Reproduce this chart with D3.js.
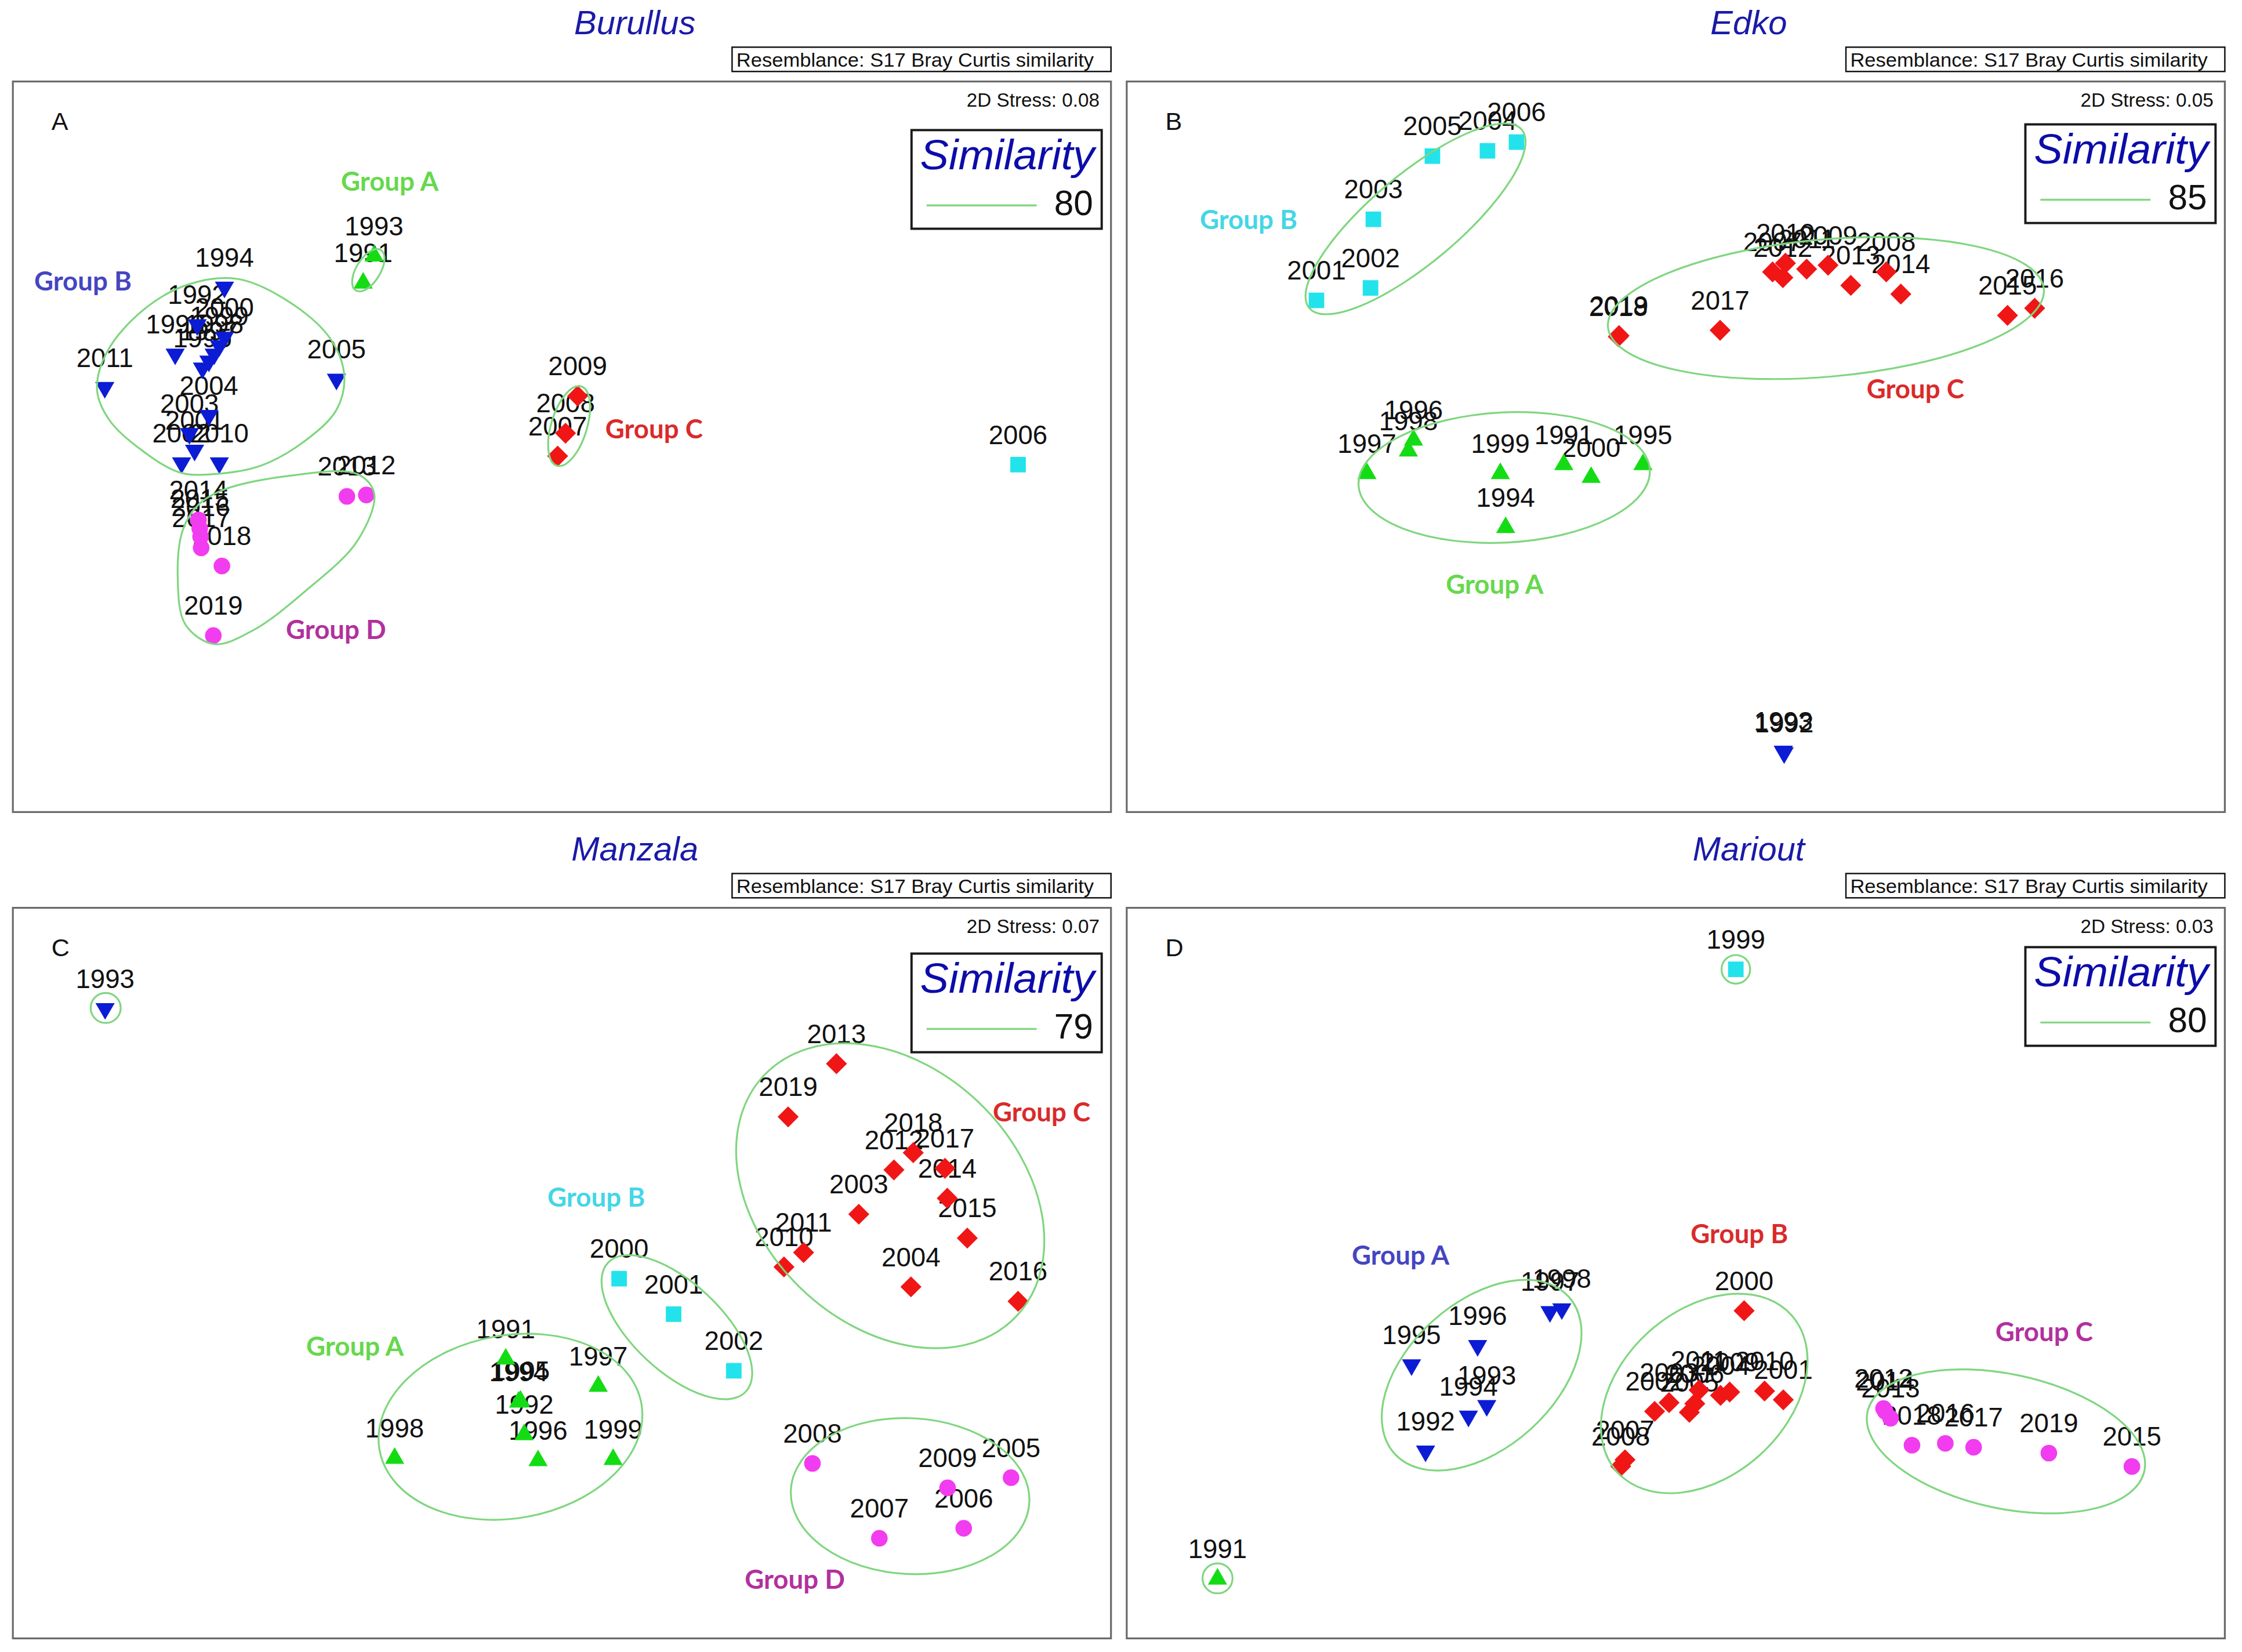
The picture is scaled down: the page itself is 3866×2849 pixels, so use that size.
<!DOCTYPE html>
<html>
<head>
<meta charset="utf-8">
<script src="https://cdn.jsdelivr.net/npm/d3@7"></script>
<style>
html, body { margin: 0; padding: 0; background: #fff; }
svg { display: block; }
</style>
</head>
<body>
<script>
// nMDS ordinations of four lagoons
// point = [year, dim1, dim2, level]; dims are in plot units (0..768 x 0..511)

const lagoonNames = ['Burullus', 'Edko', 'Manzala', 'Mariout'];
const panelLetters = ['A', 'B', 'C', 'D'];
const stressValues = ['0.08', '0.05', '0.07', '0.03'];
const similarityLevels = [80, 85, 79, 80];
const resemblanceText = 'Resemblance: S17 Bray Curtis similarity';

const burullusPoints = [
    ['1991', 245, 370, 'a'], ['1993', 252.6, 389, 'a'],
    ['1992', 128.9, 340.8, 'b'], ['1994', 148, 367.1, 'b'], ['1995', 132.6, 310.5, 'b'],
    ['1996', 113.5, 320.3, 'b'], ['1997', 137.1, 315.4, 'b'], ['1998', 140.8, 320.3, 'b'],
    ['1999', 144.4, 326.1, 'b'], ['2000', 148, 332, 'b'], ['2001', 127.1, 253, 'b'],
    ['2002', 118, 244.2, 'b'], ['2003', 123.5, 264.7, 'b'], ['2004', 137.1, 277.4, 'b'],
    ['2005', 226.3, 302.7, 'b'], ['2010', 144.4, 244.2, 'b'], ['2011', 64.3, 296.9, 'b'],
    ['2006', 703, 243, 'c'],
    ['2007', 381, 249, 'd'], ['2008', 386.5, 265, 'd'], ['2009', 395, 291, 'd'],
    ['2012', 247.2, 221.8, 'e'], ['2013', 233.6, 220.8, 'e'], ['2014', 129.8, 204.3, 'e'],
    ['2015', 130.7, 198.4, 'e'], ['2016', 131.3, 192.6, 'e'], ['2017', 131.7, 184.8, 'e'],
    ['2018', 146.2, 172.1, 'e'], ['2019', 140.2, 123.4, 'e']
];

const edkoPoints = [
    ['1991', 305.7, 243, 'a'], ['1994', 265, 199, 'a'], ['1995', 361, 243, 'a'],
    ['1996', 200.6, 260.2, 'a'], ['1997', 168, 236.8, 'a'], ['1998', 197, 252.6, 'a'],
    ['1999', 261.3, 236.8, 'a'], ['2000', 324.8, 234.1, 'a'],
    ['1992', 459.8, 41.4, 'b'], ['1993', 459.2, 42.5, 'b'],
    ['2001', 132.7, 357.9, 'c'], ['2002', 170.5, 366.6, 'c'], ['2003', 172.5, 414.6, 'c'],
    ['2004', 252.3, 462.5, 'c'], ['2005', 213.8, 458.8, 'c'], ['2006', 272.6, 468.6, 'c'],
    ['2007', 451.7, 377.8, 'd'], ['2008', 531.2, 377.8, 'd'], ['2009', 490.5, 382.5, 'd'],
    ['2010', 460.7, 383.9, 'd'], ['2011', 475.5, 379.8, 'd'], ['2012', 458.9, 373.8, 'd'],
    ['2013', 506.4, 368.4, 'd'], ['2014', 541.4, 362.3, 'd'], ['2015', 616, 347.4, 'd'],
    ['2016', 635, 352.4, 'd'], ['2017', 415, 337, 'd'], ['2018', 343.8, 332.5, 'd'],
    ['2019', 344.3, 333.3, 'd']
];

const manzalaPoints = [
    ['1991', 344.7, 195.4, 'a'], ['1992', 357.6, 142.5, 'a'], ['1994', 353.7, 165.3, 'a'],
    ['1995', 355, 166, 'a'], ['1996', 367.3, 124.3, 'a'], ['1997', 409.4, 176.4, 'a'],
    ['1998', 267, 126, 'a'], ['1999', 419.8, 125.2, 'a'],
    ['1993', 64.5, 440.5, 'b'],
    ['2000', 424, 251.6, 'c'], ['2001', 462.1, 226.8, 'c'], ['2002', 504.2, 187.2, 'c'],
    ['2003', 591.6, 296.7, 'd'], ['2004', 628.1, 245.9, 'd'], ['2010', 539.3, 259.8, 'd'],
    ['2011', 553, 269.9, 'd'], ['2012', 616.2, 327.7, 'd'], ['2013', 576, 402, 'd'],
    ['2014', 653.5, 307.9, 'd'], ['2015', 667.5, 280, 'd'], ['2016', 703, 235.8, 'd'],
    ['2017', 651.9, 328.8, 'd'], ['2018', 629.7, 339.7, 'd'], ['2019', 542.2, 364.8, 'd'],
    ['2005', 698.1, 112.4, 'e'], ['2006', 665, 77, 'e'], ['2007', 606, 70, 'e'],
    ['2008', 559.2, 122.4, 'e'], ['2009', 653.7, 105.3, 'e']
];

const mariutPoints = [
    ['1991', 63.5, 41.5, 'a'],
    ['1992', 209, 131, 'b'], ['1993', 251.8, 162.8, 'b'], ['1994', 239, 155.4, 'b'],
    ['1995', 199.2, 191.3, 'b'], ['1996', 245.4, 204.8, 'b'], ['1997', 296, 228.5, 'b'],
    ['1998', 304.3, 230.5, 'b'],
    ['1999', 426, 468, 'c'],
    ['2000', 431.8, 229.2, 'd'], ['2001', 459.2, 166.9, 'd'], ['2002', 369.2, 158.8, 'd'],
    ['2003', 379.3, 164.9, 'd'], ['2004', 415.3, 170, 'd'], ['2005', 393.5, 158.1, 'd'],
    ['2006', 397.3, 164.2, 'd'], ['2007', 348.5, 124.9, 'd'], ['2008', 345.5, 120.4, 'd'],
    ['2009', 421.7, 172.3, 'd'], ['2010', 446.1, 173, 'd'], ['2011', 400.3, 173.7, 'd'],
    ['2012', 529.3, 160.8, 'e'], ['2013', 534.2, 154, 'e'], ['2014', 530.5, 158.8, 'e'],
    ['2015', 703, 120.2, 'e'], ['2016', 572.5, 136.4, 'e'], ['2017', 592.3, 133.7, 'e'],
    ['2018', 549.2, 135.1, 'e'], ['2019', 644.9, 129.6, 'e']
];

// similarity contours: [cx, cy, rx, ry, tilt in degrees]
const burullusEllipses = [[248.6, 379, 16.6, 8.4, -58], [389, 270, 29, 12.5, -73]];
const edkoEllipses = [[202, 414.9, 97, 31, -40], [489, 352.5, 153, 48, -5], [264, 234, 102, 45.5, -3]];
const manzalaEllipses = [[64.9, 441, 10.5, 10.5, 0], [348, 148, 93, 64, -10], [464.4, 217.7, 66, 31, 43],
    [613.6, 309.6, 122, 90, 44], [627.5, 99.5, 83.5, 54.5, 3]];
const mariutEllipses = [[426, 468, 10, 10, 0], [63.5, 42, 10.5, 10.5, 0], [248.2, 184.1, 82, 51, -42],
    [403.9, 171.3, 82, 58, -42], [614.9, 137.8, 99, 47, 12]];

// free-form contours (Burullus groups B and D)
const burullusOutlines = [
    [[157.1, 372.9], [195.4, 355.4], [222.7, 330.1], [231.8, 304.7], [226.3, 281.3], [204.5, 259.8],
     [173.5, 242.3], [140.8, 236.4], [117.1, 237.4], [91.6, 252], [68, 273.5], [58.9, 295],
     [66.1, 322.3], [91.6, 351.5], [122.6, 369]],
    [[148, 225.7], [195.4, 235.5], [240.9, 236.4], [252.7, 222.8], [240.9, 189.6], [204.5, 154.5],
     [168.1, 127.2], [140.8, 117.5], [120.7, 131.1], [115.3, 164.3], [118.9, 197.4], [129.8, 215]]
];

const burullusGroupLabels = [['Group A', 263.6, 434.5, 'a'], ['Group B', 49, 365, 'b'],
    ['Group C', 448.4, 261.3, 'd'], ['Group D', 226, 121, 'e']];
const edkoGroupLabels = [['Group B', 85.2, 407.8, 'c'], ['Group C', 551.6, 289.2, 'd'],
    ['Group A', 257.3, 152.7, 'a']];
const manzalaGroupLabels = [['Group A', 239.3, 197.7, 'a'], ['Group B', 408, 302.1, 'c'],
    ['Group C', 719.5, 361.7, 'd'], ['Group D', 546.9, 34.7, 'e']];
const mariutGroupLabels = [['Group A', 191.5, 261.4, 'b'], ['Group B', 428.5, 276.5, 'd'],
    ['Group C', 641.6, 208, 'e']];

const pointSets = [burullusPoints, edkoPoints, manzalaPoints, mariutPoints];
const ellipseSets = [burullusEllipses, edkoEllipses, manzalaEllipses, mariutEllipses];
const outlineSets = [burullusOutlines, [], [], []];
const groupLabelSets = [burullusGroupLabels, edkoGroupLabels, manzalaGroupLabels, mariutGroupLabels];

// ---- styling ----
const markerStyle = {
    a: { type: d3.symbolTriangle, size: 78, rotate: 0, fill: '#14dc14' },
    b: { type: d3.symbolTriangle, size: 78, rotate: 180, fill: '#0c1cd4' },
    c: { type: d3.symbolSquare, size: 118, rotate: 0, fill: '#22e3ec' },
    d: { type: d3.symbolSquare, size: 108, rotate: 45, fill: '#f01616' },
    e: { type: d3.symbolCircle, size: 106, rotate: 0, fill: '#f23cf0' }
};
const groupLabelColor = { a: '#66d84c', b: '#4545c2', c: '#44d6e6', d: '#da2a2a', e: '#b2309e' };
const contourColor = '#7fd67f';
const sansFont = "'Liberation Sans', Arial, sans-serif";

// layout in a 1568-wide frame, scaled up to the 3866 x 2849 page
const frameW = 1568, frameH = 1568 * 2849 / 3866;
const plotW = 768, plotH = 511;
const layout = [{ L: 9, T: 57, legendTop: 34 }, { L: 788, T: 57, legendTop: 30 },
                { L: 9, T: 635, legendTop: 32 }, { L: 788, T: 635, legendTop: 27.5 }];

const svg = d3.select('body').append('svg')
    .attr('width', 3866)
    .attr('height', 2849)
    .attr('viewBox', `0 0 ${frameW} ${frameH}`);

svg.append('rect').attr('width', frameW).attr('height', frameH).attr('fill', '#fff');

layout.forEach((box, i) => {
    const L = box.L, T = box.T, R = L + plotW, B = T + plotH;
    const x = d3.scaleLinear().domain([0, plotW]).range([L, R]);
    const y = d3.scaleLinear().domain([0, plotH]).range([B, T]);
    const g = svg.append('g').attr('class', 'panel');

    // title
    g.append('text')
        .attr('x', L + 435).attr('y', T - 33)
        .attr('text-anchor', 'middle')
        .attr('font-family', sansFont).attr('font-style', 'italic')
        .attr('font-size', 23.5).attr('fill', '#1a1aa8')
        .text(lagoonNames[i]);

    // resemblance box
    g.append('rect')
        .attr('x', R - 265).attr('y', T - 24).attr('width', 265).attr('height', 17)
        .attr('fill', '#fff').attr('stroke', '#111').attr('stroke-width', 1);
    g.append('text')
        .attr('x', R - 262).attr('y', T - 10.5)
        .attr('font-family', sansFont).attr('font-size', 13.6)
        .attr('textLength', 250).attr('lengthAdjust', 'spacingAndGlyphs')
        .attr('fill', '#111')
        .text(resemblanceText);

    // plot frame
    g.append('rect')
        .attr('x', L).attr('y', T).attr('width', plotW).attr('height', plotH)
        .attr('fill', '#fff').attr('stroke', '#6a6a6a').attr('stroke-width', 1.3);

    g.append('text')
        .attr('x', R - 8).attr('y', T + 17.5)
        .attr('text-anchor', 'end')
        .attr('font-family', sansFont).attr('font-size', 13.5).attr('fill', '#111')
        .text('2D Stress: ' + stressValues[i]);

    g.append('text')
        .attr('x', L + 27).attr('y', T + 34)
        .attr('font-family', sansFont).attr('font-size', 17.5).attr('fill', '#111')
        .text(panelLetters[i]);

    // group labels
    g.selectAll('.group-label')
        .data(groupLabelSets[i])
        .enter()
        .append('text')
        .attr('class', 'group-label')
        .attr('x', d => x(d[1])).attr('y', d => y(d[2]))
        .attr('text-anchor', 'middle')
        .attr('font-family', "Lato, 'Open Sans', sans-serif").attr('font-weight', 700)
        .attr('font-size', 18.5)
        .attr('fill', d => groupLabelColor[d[3]])
        .text(d => d[0]);

    // year labels sit above their symbols
    g.selectAll('.year-label')
        .data(pointSets[i])
        .enter()
        .append('text')
        .attr('class', 'year-label')
        .attr('x', d => x(d[1])).attr('y', d => y(d[2]) - 14.5)
        .attr('text-anchor', 'middle')
        .attr('font-family', sansFont).attr('font-size', 18.5).attr('fill', '#111')
        .text(d => d[0]);

    g.selectAll('.marker')
        .data(pointSets[i])
        .enter()
        .append('path')
        .attr('class', 'marker')
        .attr('d', d => d3.symbol().type(markerStyle[d[3]].type).size(markerStyle[d[3]].size)())
        .attr('transform', d => `translate(${x(d[1])},${y(d[2])}) rotate(${markerStyle[d[3]].rotate})`)
        .attr('fill', d => markerStyle[d[3]].fill);

    // similarity contours
    g.selectAll('.contour')
        .data(ellipseSets[i])
        .enter()
        .append('ellipse')
        .attr('class', 'contour')
        .attr('cx', 0).attr('cy', 0)
        .attr('rx', d => x(d[2]) - x(0))
        .attr('ry', d => y(0) - y(d[3]))
        .attr('transform', d => `translate(${x(d[0])},${y(d[1])}) rotate(${d[4]})`)
        .attr('fill', 'none').attr('stroke', contourColor).attr('stroke-width', 1.3);

    const outline = d3.line()
        .x(d => x(d[0])).y(d => y(d[1]))
        .curve(d3.curveCatmullRomClosed.alpha(0.5));
    g.selectAll('.outline')
        .data(outlineSets[i])
        .enter()
        .append('path')
        .attr('class', 'outline')
        .attr('d', outline)
        .attr('fill', 'none').attr('stroke', contourColor).attr('stroke-width', 1.3);

    // similarity legend
    const lx = R - 6.5 - 133, ly = T + box.legendTop;
    g.append('rect')
        .attr('x', lx).attr('y', ly).attr('width', 133).attr('height', 69)
        .attr('fill', '#fff').attr('stroke', '#1a1a1a').attr('stroke-width', 1.6);
    g.append('text')
        .attr('x', lx + 6).attr('y', ly + 27.5)
        .attr('font-family', sansFont).attr('font-style', 'italic')
        .attr('font-size', 29).attr('fill', '#0c0caa')
        .attr('textLength', 122).attr('lengthAdjust', 'spacingAndGlyphs')
        .text('Similarity');
    g.append('line')
        .attr('x1', lx + 10.5).attr('x2', lx + 87.5)
        .attr('y1', ly + 52.7).attr('y2', ly + 52.7)
        .attr('stroke', '#86d686').attr('stroke-width', 1.4);
    g.append('text')
        .attr('x', lx + 127).attr('y', ly + 59.5)
        .attr('text-anchor', 'end')
        .attr('font-family', sansFont).attr('font-size', 24.5).attr('fill', '#111')
        .text(similarityLevels[i]);
});
</script>
</body>
</html>
